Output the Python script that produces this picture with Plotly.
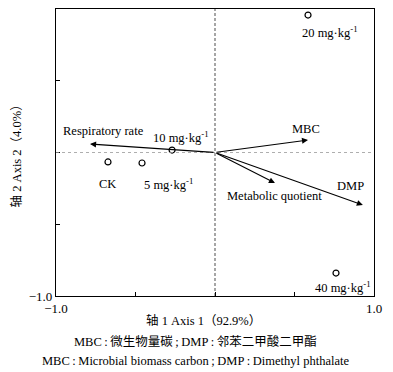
import plotly.graph_objects as go

# Sample scores
sample_names = ["CK", "5 mg·kg<sup>-1</sup>", "10 mg·kg<sup>-1</sup>", "20 mg·kg<sup>-1</sup>", "40 mg·kg<sup>-1</sup>"]
sample_x = [-0.673, -0.459, -0.27, 0.585, 0.761]
sample_y = [-0.066, -0.073, 0.017, 0.958, -0.84]

# Variable vectors
var_names = ["Respiratory rate", "MBC", "DMP", "Metabolic quotient"]
var_x = [-0.786, 0.585, 0.93, 0.377]
var_y = [0.059, 0.087, -0.366, -0.213]

tick_vals = [-1.0, -0.5, 0.0, 0.5, 1.0]
tick_text = ["−1.0", "", "", "", "1.0"]

FONT = "Liberation Serif, Times New Roman, Noto Sans CJK SC, serif"
TS = "\u2009"

fig = go.Figure()
fig.add_trace(go.Scatter(
    x=sample_x, y=sample_y, mode="markers",
    marker=dict(symbol="circle-open", size=6, color="black", line=dict(width=1.2)),
    hoverinfo="skip", showlegend=False))

# sample label offsets (px, dy positive = downward)
samp_off = [(0, 22), (26, 21), (9, -13), (22, 17), (7, 14)]
for n, x, y, (dx, dy) in zip(sample_names, sample_x, sample_y, samp_off):
    fig.add_annotation(x=x, y=y, text=n, showarrow=False, xshift=dx, yshift=-dy,
                       font=dict(size=12.5, color="black", family=FONT))

# arrows
for n, x, y in zip(var_names, var_x, var_y):
    fig.add_annotation(x=x, y=y, ax=0, ay=0, xref="x", yref="y", axref="x", ayref="y",
                       text="", showarrow=True, arrowhead=2, arrowsize=1.1,
                       arrowwidth=1.1, arrowcolor="black")

var_lab = [(-0.969, 0.152, "left"), (0.57, 0.165, "center"), (0.855, -0.235, "center"), (0.377, -0.305, "center")]
for n, (x, y, al) in zip(var_names, var_lab):
    fig.add_annotation(x=x, y=y, text=n, showarrow=False, xanchor=al,
                       font=dict(size=12.5, color="black", family=FONT))

# origin lines
fig.add_shape(type="line", x0=0, x1=0, y0=-1, y1=1, line=dict(color="black", width=0.7, dash="3px,2px"))
fig.add_shape(type="line", x0=-1, x1=1, y0=0, y1=0, line=dict(color="#999999", width=0.8, dash="dot"))

axis_common = dict(range=[-1, 1], tickvals=tick_vals, ticktext=tick_text, ticks="inside",
                   ticklen=4, tickwidth=1.2, tickcolor="black", showline=True, linecolor="black",
                   linewidth=1.2, mirror=True, showgrid=False, zeroline=False, automargin=False,
                   tickfont=dict(size=13, color="black", family=FONT))
fig.update_xaxes(**axis_common)
fig.update_yaxes(**axis_common)

fig.add_annotation(xref="paper", yref="paper", x=0.464, y=-0.087, yanchor="middle",
                   text="轴 1 Axis 1（92.9%）", showarrow=False,
                   font=dict(size=12.5, color="black", family=FONT))
fig.add_annotation(xref="paper", yref="paper", x=-0.123, y=0.5, xanchor="center", yanchor="middle",
                   text="轴 2 Axis 2（4.0%）", textangle=-90, showarrow=False,
                   font=dict(size=12.5, color="black", family=FONT))
fig.add_annotation(xref="paper", yref="paper", x=0.44, y=-0.160, yanchor="middle",
                   text=f"MBC{TS}:{TS}微生物量碳{TS};{TS}DMP{TS}:{TS}邻苯二甲酸二甲酯",
                   showarrow=False, font=dict(size=12.5, color="black", family=FONT))
fig.add_annotation(xref="paper", yref="paper", x=0.44, y=-0.226, yanchor="middle",
                   text=f"MBC{TS}:{TS}Microbial biomass carbon{TS};{TS}DMP{TS}:{TS}Dimethyl phthalate",
                   showarrow=False, font=dict(size=12.5, color="black", family=FONT))

# the page body has an 8px default margin, so margins are offset by 8px
fig.update_layout(width=393, height=372, margin=dict(l=48, r=27, t=1, b=84),
                  plot_bgcolor="white", paper_bgcolor="white")
fig.write_html("out.html")
